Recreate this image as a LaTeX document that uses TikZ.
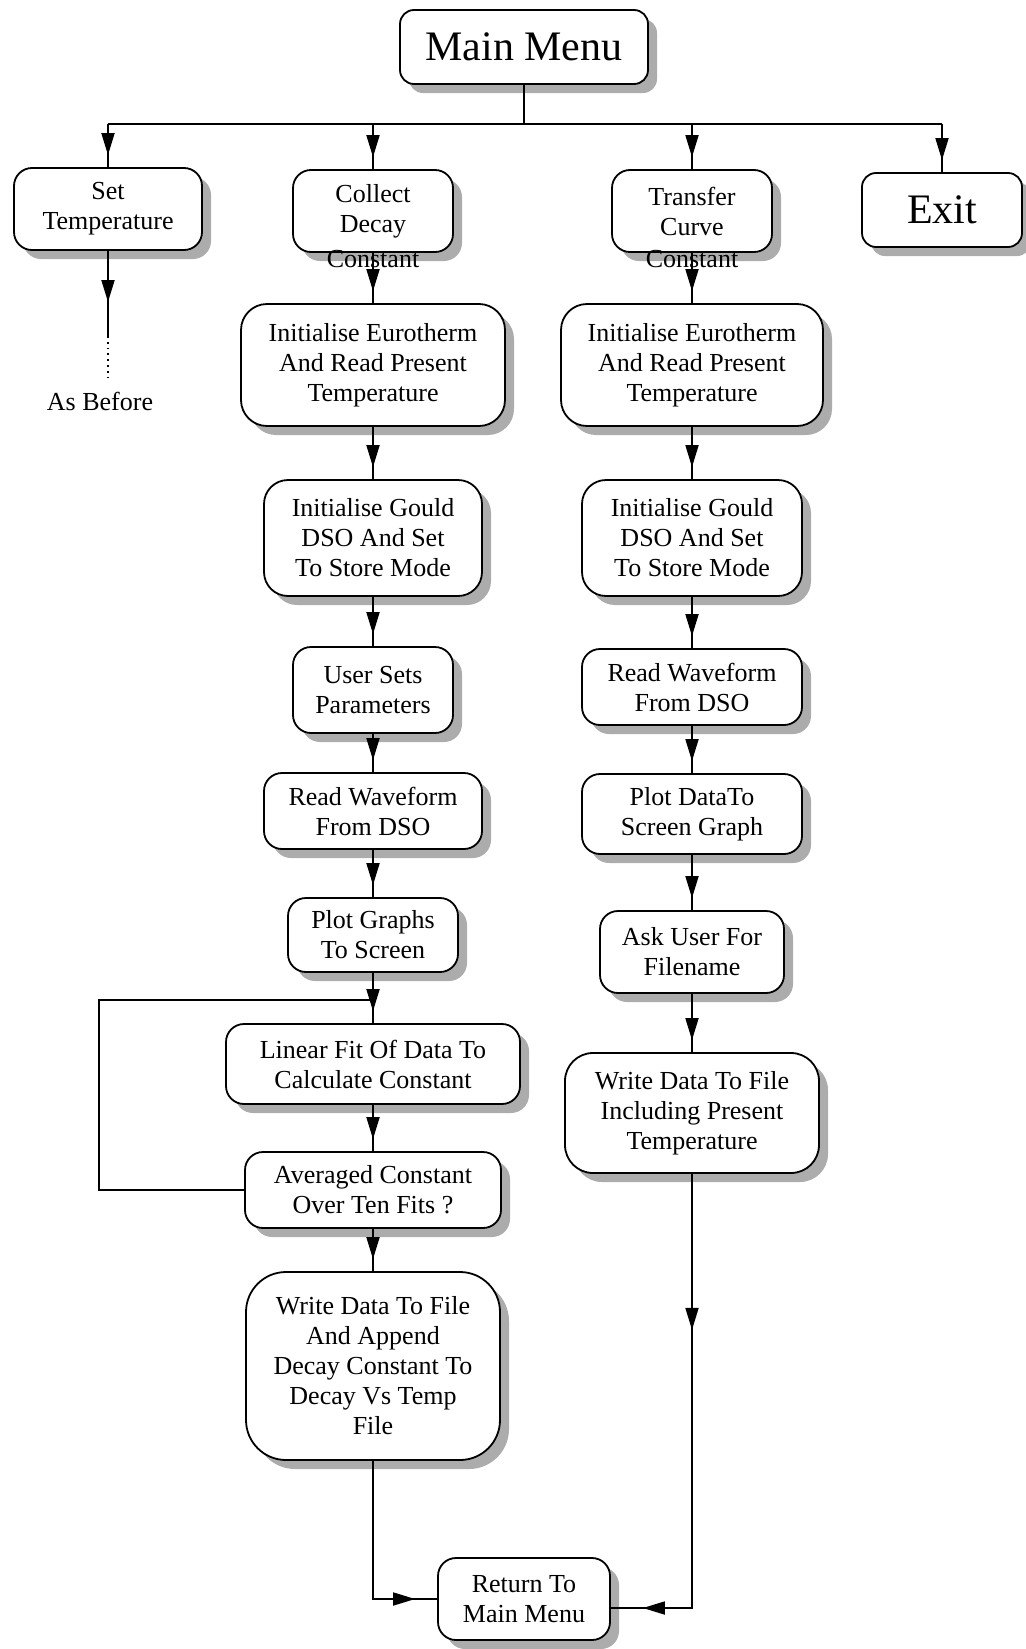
\documentclass[tikz,border=0pt]{standalone}
\usepackage{fontspec}
\setmainfont{Liberation Serif}
\usetikzlibrary{shadows,decorations.markings,arrows.meta}

\newcommand{\bodyfont}{\fontsize{13}{15}\selectfont}
\newcommand{\titlefont}{\fontsize{21}{24}\selectfont}

\tikzset{
  box/.style={draw, line width=0.9pt, rounded corners=9pt, fill=white, align=center,
    inner sep=1pt, font=\bodyfont,
    drop shadow={shadow xshift=4.5pt, shadow yshift=-4.5pt, fill=gray!65, opacity=1}},
  bigbox/.style={box, font=\titlefont, rounded corners=7pt},
  wire/.style={line width=0.9pt},
  arrowat/.style={postaction={decorate, decoration={markings,
    mark=at position #1 with {\arrow{Triangle[length=11pt,width=6.5pt]}}}}},
  link/.style={wire, arrowat=-6pt},
}

\begin{document}
\begin{tikzpicture}[x=0.5pt,y=0.5pt,yscale=-1]
  \useasboundingbox (0,0) rectangle (1026,1649);

  % Top row
  \node[bigbox, minimum width=124pt, minimum height=37pt] (menu) at (524,47) {Main Menu};
  \node[box, minimum width=94pt, minimum height=41pt] (settemp) at (108,209) {Set\\Temperature};
  \node[box, minimum width=80pt, minimum height=41pt,
    label={[name=collectc, font=\bodyfont, anchor=center, yshift=-3pt]south:Constant}] (collect) at (373,211) {Collect\\Decay};
  \node[box, minimum width=80pt, minimum height=41pt,
    label={[name=transferc, font=\bodyfont, anchor=center, yshift=-3pt]south:Constant}] (transfer) at (692,211) {Transfer\\Curve};
  \node[bigbox, minimum width=80pt, minimum height=37pt] (exit) at (942,210) {Exit};

  % Text Node
  \node[font=\bodyfont] (asbefore) at (100,401) {As Before};

  % Left column
  \node[box, rounded corners=13pt, minimum width=132pt, minimum height=61pt] (initl) at (373,365) {Initialise Eurotherm\\And Read Present\\Temperature};
  \node[box, rounded corners=12pt, minimum width=109pt, minimum height=58pt] (gouldl) at (373,538) {Initialise Gould\\DSO And Set\\To Store Mode};
  \node[box, minimum width=80pt, minimum height=43pt] (user) at (373,690) {User Sets\\Parameters};
  \node[box, minimum width=109pt, minimum height=38pt] (readl) at (373,811) {Read Waveform\\From DSO};
  \node[box, minimum width=85pt, minimum height=37pt] (plotl) at (373,935) {Plot Graphs\\To Screen};
  \node[box, minimum width=147pt, minimum height=40pt] (linfit) at (373,1064) {Linear Fit Of Data To\\Calculate Constant};
  \node[box, minimum width=128pt, minimum height=38pt] (avg) at (373,1190) {Averaged Constant\\Over Ten Fits ?};
  \node[box, rounded corners=20pt, minimum width=127pt, minimum height=94pt] (writel) at (373,1366) {Write Data To File\\And Append\\Decay Constant To\\Decay Vs Temp\\File};

  % Right column
  \node[box, rounded corners=13pt, minimum width=131pt, minimum height=61pt] (initr) at (692,365) {Initialise Eurotherm\\And Read Present\\Temperature};
  \node[box, rounded corners=12pt, minimum width=110pt, minimum height=58pt] (gouldr) at (692,538) {Initialise Gould\\DSO And Set\\To Store Mode};
  \node[box, minimum width=110pt, minimum height=38pt] (readr) at (692,687) {Read Waveform\\From DSO};
  \node[box, minimum width=110pt, minimum height=40pt] (plotr) at (692,814) {Plot DataTo\\Screen Graph};
  \node[box, minimum width=92pt, minimum height=41pt] (ask) at (692,952) {Ask User For\\Filename};
  \node[box, rounded corners=14pt, minimum width=127pt, minimum height=60pt] (writer) at (692,1113) {Write Data To File\\Including Present\\Temperature};

  % Bottom
  \node[box, minimum width=86pt, minimum height=41pt] (ret) at (524,1599) {Return To\\Main Menu};

  % Coordinates
  \coordinate (bar) at (524,124);
  \coordinate (stend) at (108,336);
  \coordinate (stdot) at (108,378);
  \coordinate (loopl) at (99,1000);
  \coordinate (loopin) at (373,1000);
  \coordinate (rcorner) at (692,1608);

  %Straight Lines
  \draw[wire] (menu.south) -- (bar);
  \draw[wire] (settemp.north |- bar) -- (exit.north |- bar);
  \foreach \n in {settemp,collect,transfer,exit}
    \draw[link] (\n.north |- bar) -- (\n.north);

  \draw[wire, arrowat=-17pt] (settemp.south) -- (stend);
  \draw[wire, dotted] (stend) -- (stdot);

  \foreach \a/\b in {collect/initl, initl/gouldl, gouldl/user, user/readl, readl/plotl,
    plotl/linfit, linfit/avg, avg/writel,
    transfer/initr, initr/gouldr, gouldr/readr, readr/plotr, plotr/ask, ask/writer}
    \draw[link] (\a.south) -- (\b.north);

  % loop back
  \draw[wire] (avg.west) -| (loopl) -- (loopin);

  % to return
  \draw[wire, arrowat=-11pt] (writel.south) |- (ret.west);
  \draw[wire, arrowat=78pt, arrowat=-16pt] (writer.south) -- (rcorner) -- (ret.east |- rcorner);
\end{tikzpicture}
\end{document}
